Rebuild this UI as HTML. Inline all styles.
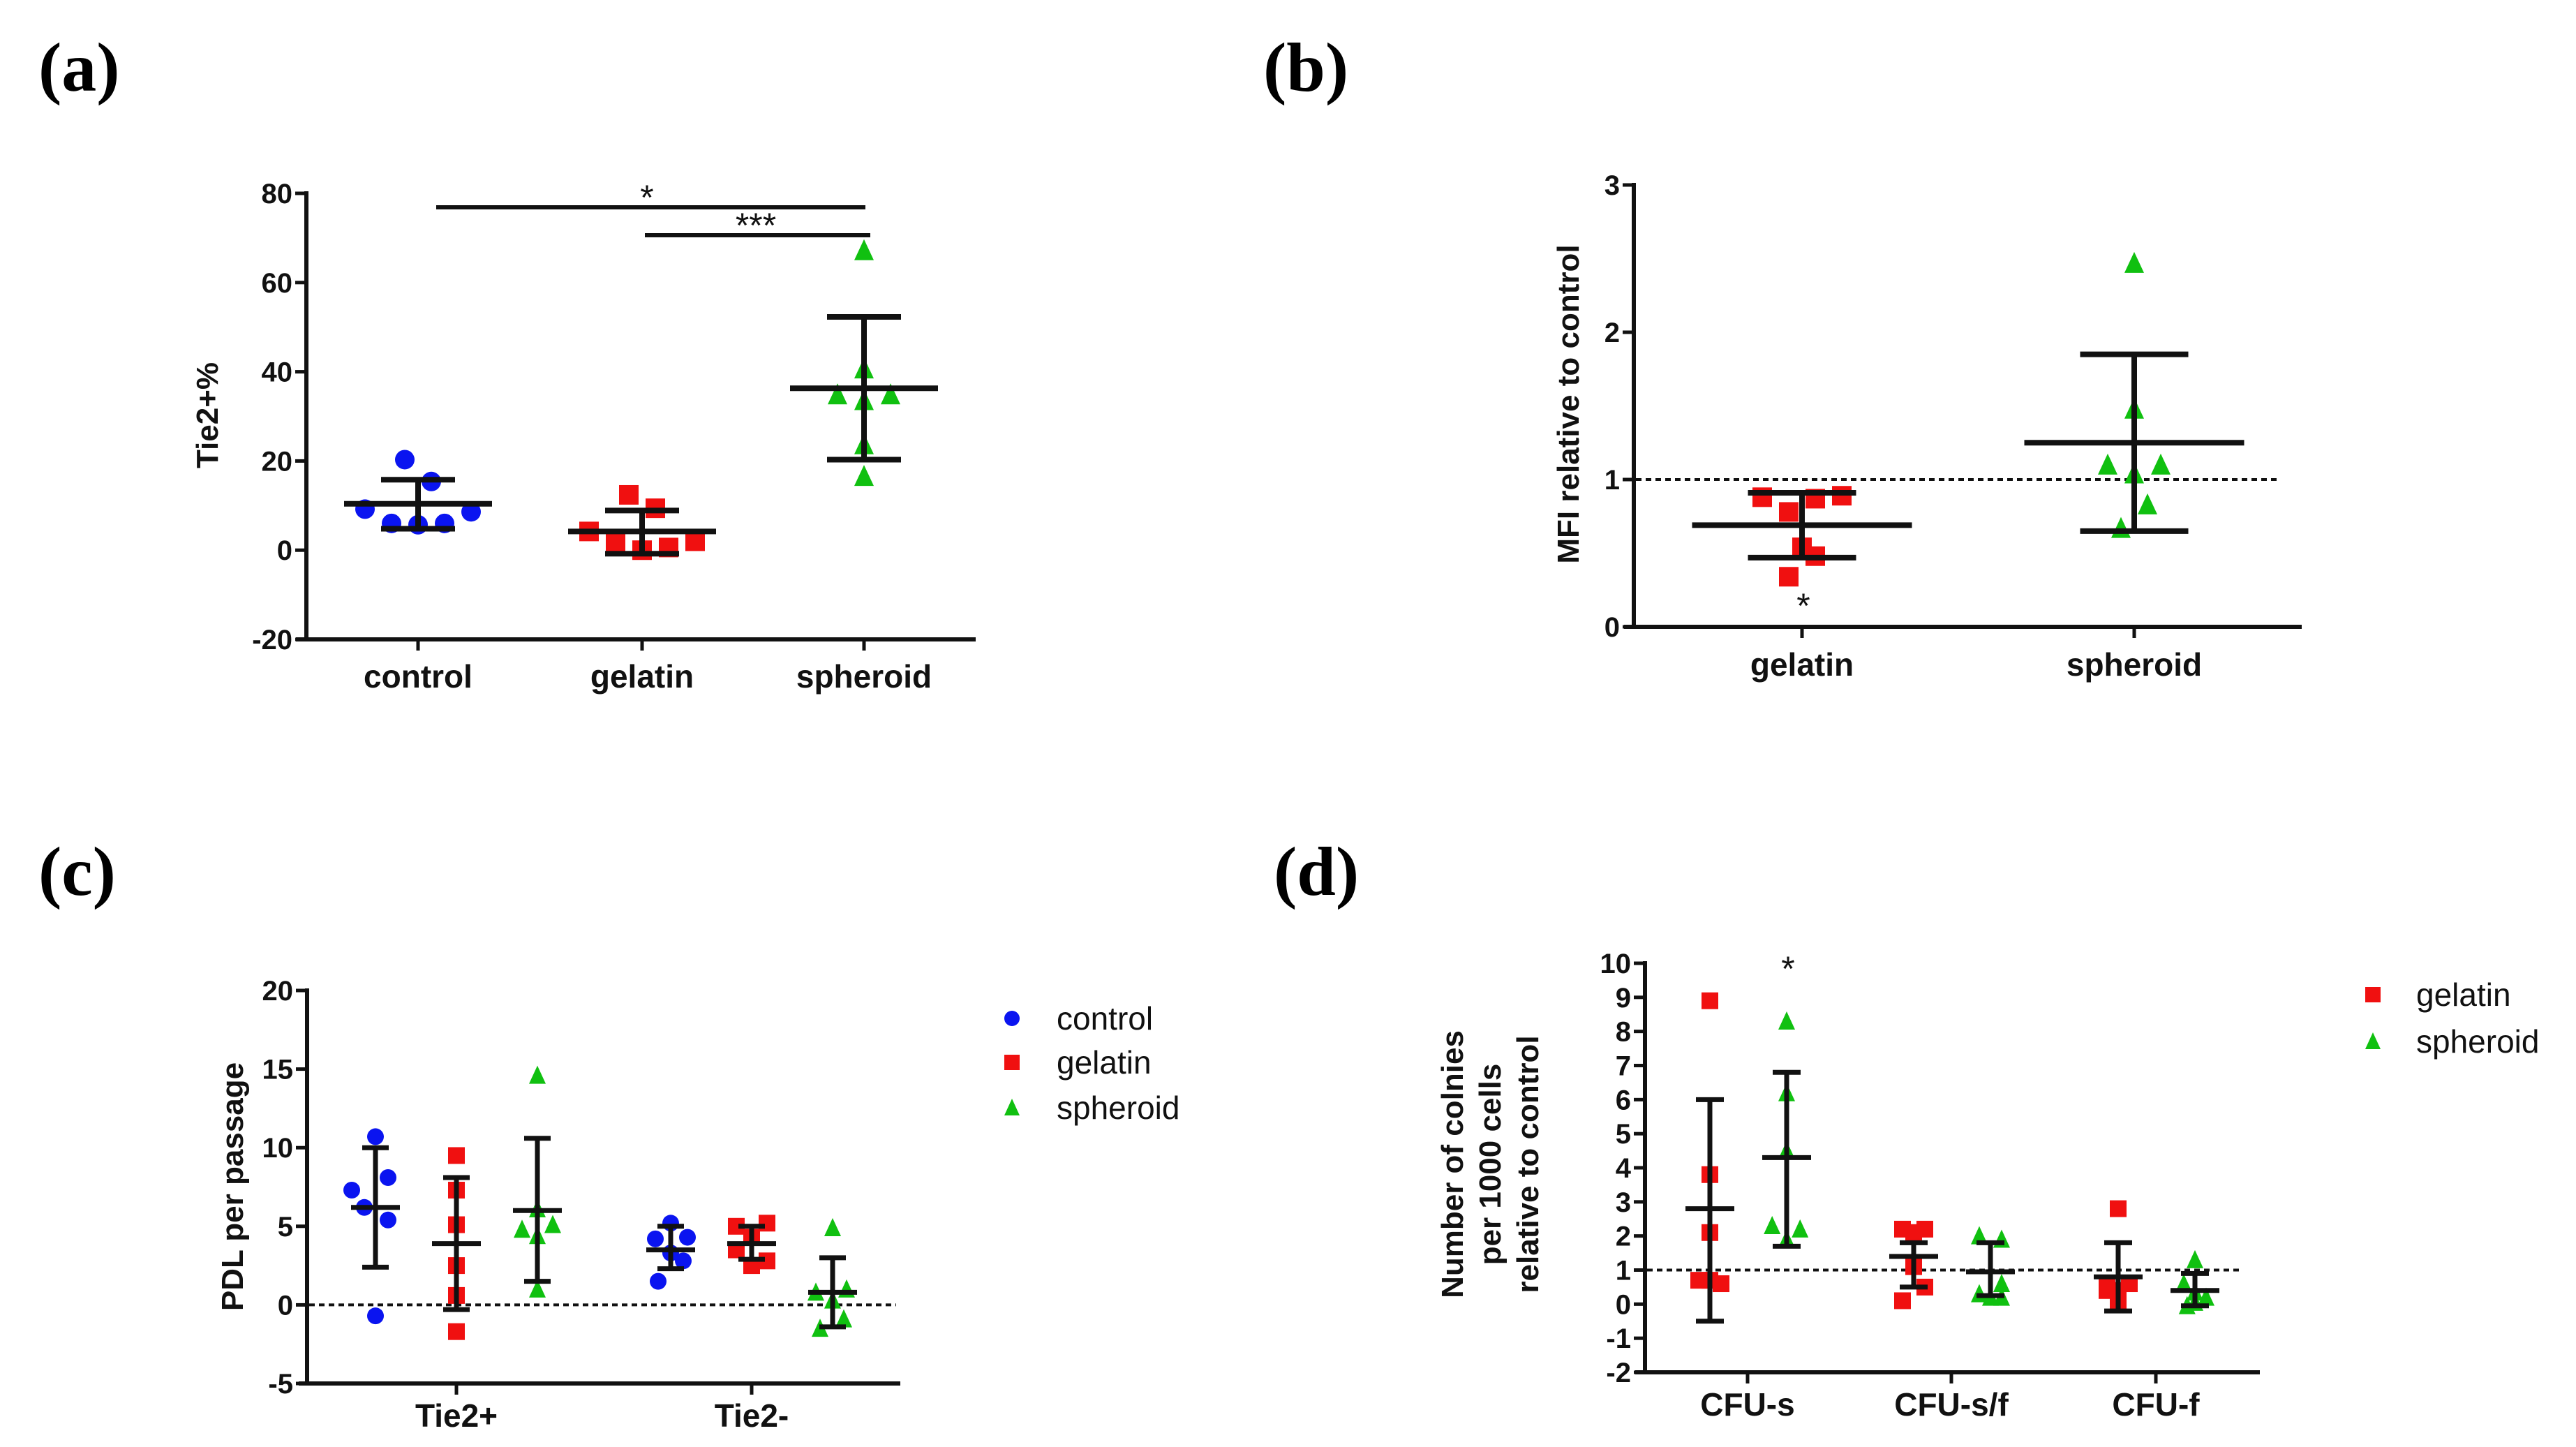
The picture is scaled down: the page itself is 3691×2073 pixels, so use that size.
<!DOCTYPE html>
<html><head><meta charset="utf-8"><style>
html,body{margin:0;padding:0;background:#fff;}
svg{display:block;}
.tk{font-family:"Liberation Sans Narrow","Liberation Sans",sans-serif;font-weight:bold;font-size:40px;fill:#111;}
.cat{font-family:"Liberation Sans Narrow","Liberation Sans",sans-serif;font-weight:bold;font-size:46px;fill:#111;}
.ttl{font-family:"Liberation Sans",sans-serif;font-weight:bold;font-size:44px;fill:#111;}
.lg{font-family:"Liberation Sans Narrow","Liberation Sans",sans-serif;font-size:46px;fill:#111;}
.pl{font-family:"Liberation Serif",serif;font-weight:bold;font-size:100px;fill:#000;}
.st{font-family:"Liberation Sans",sans-serif;font-size:50px;fill:#111;}
</style></head><body>
<svg id="fig" width="3691" height="2073" viewBox="0 0 3691 2073" xmlns="http://www.w3.org/2000/svg">
<text class="pl" x="55" y="130">(a)</text>
<text class="pl" x="1810" y="130">(b)</text>
<text class="pl" x="55" y="1282">(c)</text>
<text class="pl" x="1825" y="1282">(d)</text>
</svg>
<script>
// ---- Panel A data ----
const aCats = ["control","gelatin","spheroid"];
const aControl = [20.3,15.4,9.2,8.6,6.0,5.7,6.0];
const aGelatin = [12.4,9.4,4.2,1.7,0.0,0.6,2.0];
const aSpheroid = [67.2,40.7,34.9,34.9,33.6,23.7,16.6];
const aMean = [10.4,4.2,36.3];
const aSdHi = [15.8,8.9,52.3];
const aSdLo = [4.8,-0.8,20.3];
const aTicks = [-20,0,20,40,60,80];
// ---- Panel B data ----
const bCats = ["gelatin","spheroid"];
const bGelatin = [0.88,0.87,0.89,0.78,0.54,0.48,0.34];
const bSpheroid = [2.47,1.48,1.10,1.10,1.04,0.83,0.67];
const bMean = [0.69,1.25];
const bSdHi = [0.91,1.85];
const bSdLo = [0.47,0.65];
const bTicks = [0,1,2,3];
// ---- Panel C data ----
const cCats = ["Tie2+","Tie2-"];
const cControl = [[10.7,7.3,8.1,6.2,5.4,-0.7],[5.2,4.2,4.3,3.3,2.8,1.5]];
const cGelatin = [[9.5,7.3,5.1,2.5,0.6,-1.7],[5.0,5.2,4.3,3.5,2.8,2.5]];
const cSpheroid = [[14.6,6.1,4.8,5.1,4.4,1.0],[4.9,0.8,1.0,0.3,-0.9,-1.5]];
const cMean = [[6.2,3.9,6.0],[3.5,3.9,0.8]];
const cSdHi = [[10.0,8.1,10.6],[5.0,5.0,3.0]];
const cSdLo = [[2.4,-0.3,1.5],[2.3,2.9,-1.4]];
const cTicks = [-5,0,5,10,15,20];
// ---- Panel D data ----
const dCats = ["CFU-s","CFU-s/f","CFU-f"];
const dGelatin = [[8.9,3.8,2.1,0.7,0.6,0.7],[2.2,2.2,2.1,1.1,0.5,0.1],[2.8,0.6,0.6,0.4,0.4,0.1]];
const dSpheroid = [[8.3,6.2,4.5,2.3,2.2,1.9],[2.0,1.9,0.6,0.3,0.2,0.2],[1.3,0.6,0.35,0.2,0.05,-0.05]];
const dMean = [[2.8,4.3],[1.4,0.95],[0.8,0.4]];
const dSdHi = [[6.0,6.8],[1.8,1.8],[1.8,0.9]];
const dSdLo = [[-0.5,1.7],[0.5,0.25],[-0.2,-0.05]];
const dTicks = [-2,-1,0,1,2,3,4,5,6,7,8,9,10];

// horizontal scatter offsets (layout only, in marker-spacing units)
const aJit = [[-0.5,0.5,-2,2,-1,0,1],[-0.5,0.5,-2,-1,0,1,2],[0,0,-1,1,0,0,0]];
const bJit = [[-1.5,0.5,1.5,-0.5,0,0.5,-0.5],[0,0,-1,1,0,0.5,-0.5]];
const cJit = [[[0,-1.7,0.9,-0.8,0.9,0],[0,0,0,0,0,0],[0,0,-1.1,1.1,0,0]],
              [[0,-1.1,1.2,0,0.9,-0.9],[-1.1,1.1,0,-1.1,1.1,0],[0,-1.2,1,0,0.8,-0.9]]];
const dJit = [[[0,0,0,-1,1,0],[0,0,0,-1.3,1.2,0]],[[-1,1,0,0,1,-1],[-1,1,1,-1,0,1]],[[0,-1,1,0,-1,0],[0,-1,0,1,0,-0.7]]];

const NS="http://www.w3.org/2000/svg";
const svg=document.getElementById('fig');
const COL={control:"#0a14f0",gelatin:"#f01010",spheroid:"#10c010"};
function el(tag,attrs,parent){const e=document.createElementNS(NS,tag);for(const k in attrs)e.setAttribute(k,attrs[k]);(parent||svg).appendChild(e);return e;}
function txt(cls,x,y,s,anchor,parent){const t=el('text',{class:cls,x:x,y:y,'text-anchor':anchor||'middle'},parent);t.textContent=s;return t;}
function marker(kind,x,y,g,r){
  r=r||13;let m;
  if(kind==='control'){m=el('ellipse',{cx:x,cy:y,rx:r,ry:r,fill:COL.control},g);}
  else if(kind==='gelatin'){m=el('rect',{x:x-r,y:y-r,width:2*r,height:2*r,fill:COL.gelatin},g);}
  else {m=el('polygon',{points:(x)+','+(y-r-2)+' '+(x-r)+','+(y+r)+' '+(x+r)+','+(y+r),fill:COL.spheroid},g);}
  
  
}
function errbar(x,mean,hi,lo,ys,capW,meanW,g,lw){
  const s='#111';
  const v=el('line',{x1:x,x2:x,y1:ys(hi),y2:ys(lo),stroke:s,'stroke-width':lw},g);
  
  [hi,lo].forEach(val=>{const c=el('line',{x1:x-capW/2,x2:x+capW/2,y1:ys(val),y2:ys(val),stroke:s,'stroke-width':lw},g);
    });
  const m=el('line',{x1:x-meanW/2,x2:x+meanW/2,y1:ys(mean),y2:ys(mean),stroke:s,'stroke-width':lw},g);
  
}
function axes(g,x0,xStart,xEnd,ys,ticks,yTop,yBot){
  const ya=el('line',{x1:x0,x2:x0,y1:yTop-3,y2:yBot+3,stroke:'#111','stroke-width':6},g);
  
  const xa=el('line',{x1:xStart,x2:xEnd,y1:yBot,y2:yBot,stroke:'#111','stroke-width':6},g);
  
  ticks.forEach(t=>{const y=ys(t);
    const l=el('line',{x1:x0-16,x2:x0,y1:y,y2:y,stroke:'#111','stroke-width':5},g);
    
    const tt=txt('tk',x0-20,y+14,String(t),'end',g);
    });
}
function dashed(g,x1,x2,y){const d=el('line',{x1:x1,x2:x2,y1:y,y2:y,stroke:'#111','stroke-width':4,'stroke-dasharray':'8 6'},g);
  }
function ytitle(g,x,y,s){const t=txt('ttl',x,y,s,'middle',g);t.setAttribute('transform','rotate(-90 '+x+' '+y+')');
  return t;}
function xcat(g,x,yBot,ty,s){el('line',{x1:x,x2:x,y1:yBot,y2:yBot+16,stroke:'#111','stroke-width':5},g);
  const t=txt('cat',x,ty,s,'middle',g);}

// ===== Panel A =====
(function(){
  const g=el('g',{});
  const yTop=277,yBot=916,vMin=-20,vMax=80;
  const ys=v=>yBot-(v-vMin)/(vMax-vMin)*(yBot-yTop);
  const xs=[599,920,1238];
  axes(g,439,424,1398,ys,aTicks,yTop,yBot);
  aCats.forEach((c,i)=>xcat(g,xs[i],yBot,985,c));
  const sets=[aControl,aGelatin,aSpheroid];const kinds=['control','gelatin','spheroid'];
  sets.forEach((vals,i)=>{vals.forEach((v,k)=>marker(kinds[i],xs[i]+aJit[i][k]*38,ys(v),g,14));});
  sets.forEach((vals,i)=>errbar(xs[i],aMean[i],aSdHi[i],aSdLo[i],ys,106,212,g,8));
  ytitle(g,312,595,'Tie2+%');
  const s1=el('line',{x1:625,x2:1240,y1:297,y2:297,stroke:'#111','stroke-width':6},g);
  const s2=el('line',{x1:924,x2:1247,y1:337,y2:337,stroke:'#111','stroke-width':6},g);
  const a1=txt('st',927,300,'*','middle',g);
  const a2=txt('st',1083,340,'***','middle',g);
})();

// ===== Panel B =====
(function(){
  const g=el('g',{});
  const yTop=265,yBot=898,vMin=0,vMax=3;
  const ys=v=>yBot-(v-vMin)/(vMax-vMin)*(yBot-yTop);
  const xs=[2582,3058];
  axes(g,2341,2327,3298,ys,bTicks,yTop,yBot);
  dashed(g,2344,3265,ys(1));
  bCats.forEach((c,i)=>xcat(g,xs[i],yBot,968,c));
  const sets=[bGelatin,bSpheroid];const kinds=['gelatin','spheroid'];
  sets.forEach((vals,i)=>{vals.forEach((v,k)=>marker(kinds[i],xs[i]+bJit[i][k]*38,ys(v),g,14));});
  sets.forEach((vals,i)=>errbar(xs[i],bMean[i],bSdHi[i],bSdLo[i],ys,155,315,g,8));
  ytitle(g,2262,579,'MFI relative to control');
  const st=txt('st',2584,885,'*','middle',g);
})();

// ===== Panel C =====
(function(){
  const g=el('g',{});
  const yTop=1419,yBot=1982,vMin=-5,vMax=20;
  const ys=v=>yBot-(v-vMin)/(vMax-vMin)*(yBot-yTop);
  const xc=[654,1077];const off=[-116,0,116];
  axes(g,440,428,1290,ys,cTicks,yTop,yBot);
  dashed(g,443,1284,ys(0));
  cCats.forEach((c,i)=>xcat(g,xc[i],yBot,2044,c));
  const sets=[cControl,cGelatin,cSpheroid];const kinds=['control','gelatin','spheroid'];
  cCats.forEach((c,ci)=>{sets.forEach((s,si)=>{const vals=s[ci];
    vals.forEach((v,k)=>marker(kinds[si],xc[ci]+off[si]+cJit[ci][si][k]*20,ys(v),g,12));});});
  cCats.forEach((c,ci)=>{sets.forEach((s,si)=>errbar(xc[ci]+off[si],cMean[ci][si],cSdHi[ci][si],cSdLo[ci][si],ys,38,70,g,7));});
  ytitle(g,348,1700,'PDL per passage');
  const names=['control','gelatin','spheroid'];const ly=[1459,1522,1587];
  names.forEach((n,i)=>{const lg=el('g',{},g);
    marker(n,1450,ly[i],lg,11);txt('lg',1514,ly[i]+16,n,'start',lg);});
})();

// ===== Panel D =====
(function(){
  const g=el('g',{});
  const yTop=1380,yBot=1966,vMin=-2,vMax=10;
  const ys=v=>yBot-(v-vMin)/(vMax-vMin)*(yBot-yTop);
  const xc=[2504,2796,3089];const off=[-54,56];
  axes(g,2357,2343,3238,ys,dTicks,yTop,yBot);
  dashed(g,2360,3213,ys(1));
  dCats.forEach((c,i)=>xcat(g,xc[i],yBot,2028,c));
  const sets=[dGelatin,dSpheroid];const kinds=['gelatin','spheroid'];
  dCats.forEach((c,ci)=>{sets.forEach((s,si)=>{const vals=s[ci];
    vals.forEach((v,k)=>marker(kinds[si],xc[ci]+off[si]+dJit[ci][si][k]*16,ys(v),g,12));});});
  dCats.forEach((c,ci)=>{sets.forEach((s,si)=>errbar(xc[ci]+off[si],dMean[ci][si],dSdHi[ci][si],dSdLo[ci][si],ys,40,70,g,7));});
  ytitle(g,2096,1668,'Number of colnies');
  ytitle(g,2150,1668,'per 1000 cells');
  ytitle(g,2204,1668,'relative to control');
  const st=txt('st',2562,1405,'*','middle',g);
  const names=['gelatin','spheroid'];const ly=[1425,1492];
  names.forEach((n,i)=>{const lg=el('g',{},g);
    marker(n,3400,ly[i],lg,11);txt('lg',3462,ly[i]+16,n,'start',lg);});
})();
</script>
</body></html>
